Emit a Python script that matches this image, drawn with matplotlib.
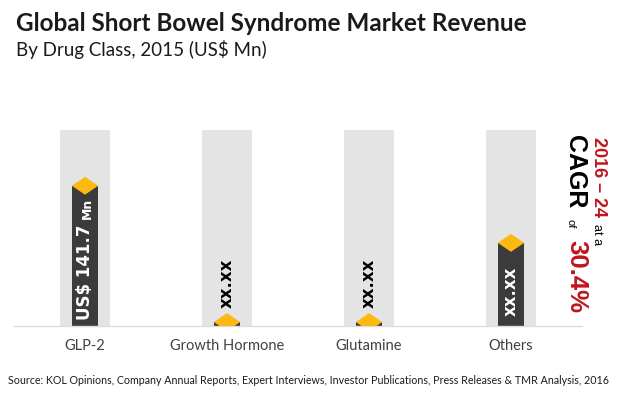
import matplotlib.pyplot as plt

categories = ["GLP-2", "Growth Hormone", "Glutamine", "Others"]
values = [141.7, 4, 4, 84]
bar_labels = ["US$ 141.7", "xx.xx", "xx.xx", "xx.xx"]
bg_max = 198

title = "Global Short Bowel Syndrome Market Revenue"
subtitle = "By Drug Class, 2015 (US$ Mn)"
source = ("Source: KOL Opinions, Company Annual Reports, Expert Interviews, "
          "Investor Publications, Press Releases & TMR Analysis, 2016")

W, H = 619, 394
fig = plt.figure(figsize=(W / 100, H / 100), dpi=100)
fig.patch.set_facecolor("white")

ax = fig.add_axes([14 / W, 68 / H, 568 / W, 196 / H])
x = list(range(len(categories)))

ax.bar(x, [bg_max] * len(x), width=50 / 142, color="#e4e4e4", zorder=1)
ax.bar(x, values, width=26 / 142, color="#3b3b3b", zorder=2)

diamond = [(-1, 0), (0, 0.68), (1, 0), (0, -0.68), (-1, 0)]
ax.scatter(x, values, marker=diamond, s=19 ** 2, color="#fdb913",
           edgecolor="none", zorder=3)

ax.set_xlim(-0.5, 3.5)
ax.set_ylim(0, bg_max)
ax.set_yticks([])
ax.set_xticks(x, categories, fontsize=10.5, color="#404040",
              family="Lato")
ax.tick_params(axis="x", length=0, pad=9)
for s in ["top", "left", "right"]:
    ax.spines[s].set_visible(False)
ax.spines["bottom"].set_color("#dcdcdc")
ax.spines["bottom"].set_linewidth(1)

# labels inside / above bars
for i, (v, lab) in enumerate(zip(values, bar_labels)):
    if i == 0:
        t = ax.annotate(lab, (i, 0), xytext=(0, 4), textcoords="offset points",
                        rotation=90, ha="center", va="bottom",
                        fontsize=12, fontweight="bold", color="white",
                        zorder=4)
        ax.annotate("Mn", (0.5, 1), xycoords=t, xytext=(2, 4),
                    textcoords="offset points", rotation=90,
                    ha="center", va="bottom", fontsize=9,
                    fontweight="bold", color="white", zorder=4)
    elif i == 3:
        ax.annotate(lab, (i, 0), xytext=(0, 7), textcoords="offset points",
                    rotation=90, ha="center", va="bottom",
                    fontsize=12, fontweight="bold", color="white", zorder=4)
    else:
        ax.annotate(lab, (i, 0), xytext=(0, 13), textcoords="offset points",
                    rotation=90, ha="center", va="bottom",
                    fontsize=12, fontweight="bold", color="black", zorder=4)

# titles
fig.text(16 / W, 1 - 12 / H, title, fontsize=17.5, fontweight="bold",
         family="Lato", color="#1a1a1a", va="top", ha="left")
fig.text(16 / W, 1 - 40 / H, subtitle, fontsize=13.5, family="Lato",
         color="#1a1a1a", va="top", ha="left")
fig.text(8 / W, 1 - 380 / H, source, fontsize=7.65, family="Lato",
         color="#1a1a1a", va="center", ha="left")

# CAGR callout
red = "#c0141b"
arial = "Liberation Sans"
fig.text(575 / W, 1 - 135 / H, "CAGR", rotation=-90, ha="center", va="top",
         fontsize=18, fontweight="bold", family=arial, color="black")
fig.text(571 / W, 1 - 219 / H, "of", rotation=-90, ha="center", va="top",
         fontsize=8, family=arial, color="black")
fig.text(576 / W, 1 - 240 / H, "30.4%", rotation=-90, ha="center", va="top",
         fontsize=18.5, fontweight="bold", family=arial, color=red)
fig.text(598 / W, 1 - 137 / H, "2016 \u2013 24", rotation=-90, ha="center",
         va="top", fontsize=13, fontweight="bold", family=arial, color=red)
fig.text(597 / W, 1 - 224 / H, "at a", rotation=-90, ha="center", va="top",
         fontsize=9, family=arial, color="black")

fig.savefig("out.png", dpi=100)
